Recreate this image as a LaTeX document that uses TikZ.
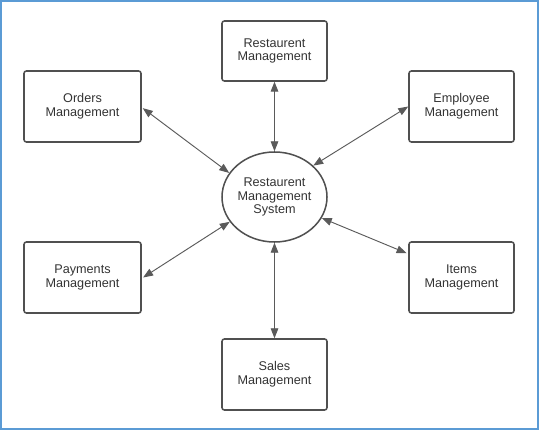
\documentclass[tikz,border=0pt]{standalone}
\usepackage{fontspec}
\setmainfont{Liberation Sans}
\usetikzlibrary{arrows.meta,shapes.geometric}
\definecolor{framecol}{HTML}{5B9BD5}
\definecolor{boxcol}{HTML}{505050}
\definecolor{linkcol}{HTML}{5A5A5A}
\definecolor{txtcol}{HTML}{333333}
\begin{document}
\begin{tikzpicture}[
    module/.style={draw=boxcol, rectangle, rounded corners=2pt, line width=1.3pt,
                   minimum width=3.15cm, minimum height=2.13cm,
                   align=center, text=txtcol, font=\fontsize{10.8}{11.6}\selectfont},
    core/.style={draw=boxcol, ellipse, line width=1.3pt, inner sep=0pt,
                 minimum width=3.15cm, minimum height=2.7cm,
                 align=center, text=txtcol, font=\fontsize{10.8}{11.6}\selectfont},
    link/.style={draw=linkcol, line width=0.8pt,
                 {Triangle[length=8.5pt,width=6.5pt]}-{Triangle[length=8.5pt,width=6.5pt]}}
]
\useasboundingbox (0,0) rectangle (16.17,12.93);
\draw[framecol, line width=1.6pt] (0.03,0.05) rectangle (16.14,12.9);

% Noduri
\node[core] (system) at (8.235,7.02) {Restaurent\\Management\\System};
\node[module, minimum height=1.8cm] (restaurent) at (8.235,11.4) {Restaurent\\Management};
\node[module, minimum width=3.51cm] (orders)   at (2.475,9.735)  {Orders\\Management};
\node[module]                      (employee) at (13.845,9.735) {Employee\\Management};
\node[module, minimum width=3.51cm] (payments) at (2.475,4.605)  {Payments\\Management};
\node[module]                      (items)    at (13.845,4.605) {Items\\Management};
\node[module]                      (sales)    at (8.235,1.695)  {Sales\\Management};

% Legaturi
\draw[link] (restaurent.south) -- (system.north);
\draw[link] ([shift={(0.03,-0.05)}]orders.east) -- (system.152);
\draw[link] (employee.west) -- (system.39);
\draw[link] ([xshift=0.04cm]payments.east) -- (system.209);
\draw[link] ([shift={(-0.05,0.73)}]items.west) -- (system.-24);
\draw[link] (sales.north) -- (system.south);

\end{tikzpicture}
\end{document}
